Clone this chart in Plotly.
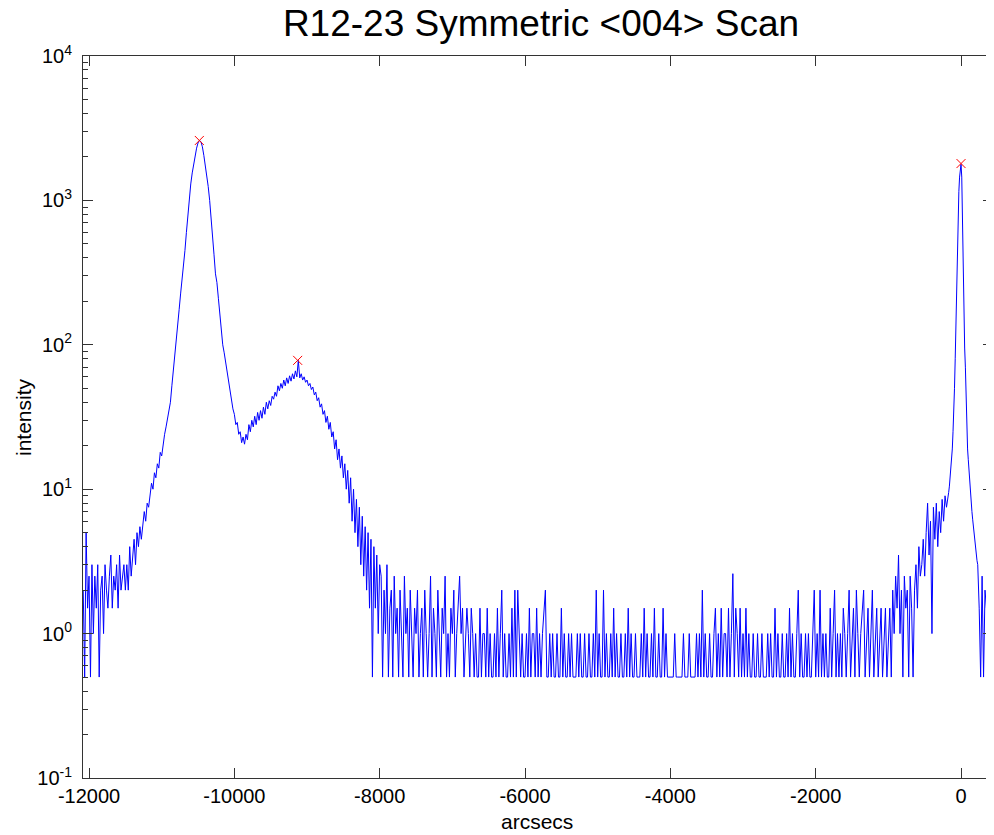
import plotly.graph_objects as go

# ---------------- data ----------------
# Each segment: start angle (arcsec), sampling step (arcsec), intensities
seg_a_start, seg_a_step = -12080, 20
seg_a = [2, 0.5, 5, 1.5, 2.5, 0.5, 3, 1, 2.5, 1.5,
         3, 0.5, 2, 2.5, 1, 3, 2, 1.5, 2.5, 3.5,
         1.5, 2.5, 2, 3, 1.5, 3.5, 2, 2.5, 3, 2]

seg_b_start, seg_b_step = -11480, 20
seg_b = [3, 2, 4, 2.5, 3.5, 4.5, 3, 5, 4, 5.5,
         4.5, 6, 7, 6, 8, 7.5, 9, 11, 10, 13,
         12, 15, 14, 18, 17, 21, 24, 27, 31, 35]

seg_c_start, seg_c_step = -10880, 20
seg_c = [40, 52, 68, 86, 105, 135, 175, 225, 280, 340,
         450, 600, 800, 1050, 1300, 1550, 1800, 2050, 2300, 2500,
         2600, 2550, 2350, 2050, 1750, 1450, 1250, 1000, 780, 600,
         420, 310, 270, 210, 165, 125, 100, 88, 75, 64,
         55, 48]

seg_d_start, seg_d_step = -10040, 20
seg_d = [42, 36, 33, 28, 29, 24, 25, 21, 23, 20.5,
         24, 22, 28, 25, 30, 27, 32, 28, 34, 30,
         35, 31, 37, 33, 40, 36, 41, 38, 44, 42,
         47, 44, 52, 48, 54, 50, 57, 52, 59, 54,
         61, 56, 63, 58, 66, 60, 78, 59, 63, 57,
         60, 55, 57, 52, 54, 49, 51, 45, 47, 41,
         43, 37, 39, 33, 35, 29, 32, 26, 29, 23,
         25, 19, 22, 16, 19, 14, 17, 12, 15, 10,
         13.5, 8, 12, 6, 10, 5, 8.5, 4, 7.5, 3,
         6.5, 2.5, 5.5, 2, 5, 1.5, 4.5, 0.5, 4, 1.5,
         3.5, 1, 3]

seg_e_start, seg_e_step = -7980, 20
seg_e = [2.5, 0.5, 2, 1, 3, 0.5, 1.5, 2, 0.5, 2.5, 1, 1.5, 0.5, 2, 1, 0.5, 2.5, 1, 1.5, 0.5,
         2, 1, 0.5, 1.5, 1, 2, 0.5, 1, 1.5, 0.5, 2, 1, 0.5, 1, 2.5, 0.5, 1.5, 1, 0.5, 2,
         1, 0.5, 1.5, 1, 2.5, 0.5, 1, 0.5, 1.5, 1, 2, 0.5, 1, 1.5, 2.5, 1, 1.5, 0.5, 1, 1.5,
         1, 0.5, 1.5, 1, 0.5, 1, 0.5, 0.5, 1.5, 0.5, 1, 1, 0.5, 1.5, 0.5, 1, 0.5, 0.5, 1, 0.5,
         1.5, 0.5, 1, 2, 0.5, 1, 0.5, 0.5, 1, 0.5, 1.5, 0.5, 2, 0.5, 2, 1, 0.5, 1, 0.5, 0.5,
         1, 0.5, 1.5, 0.5, 1, 1, 0.5, 1.5, 0.5, 1, 0.5, 1, 1.5, 2, 0.5, 0.5, 1, 0.5, 1, 0.5,
         0.5, 1, 0.5, 0.5, 1.5, 0.5, 1, 0.5, 0.5, 1, 0.5, 1, 0.5, 0.5, 0.5, 1, 0.5, 1, 0.5, 0.5,
         1, 0.5, 0.5, 1, 0.5, 0.5, 1, 0.5, 2, 0.5, 1, 0.5, 0.5, 2, 0.5, 1, 0.5, 0.5, 1, 0.5,
         1.5, 0.5, 1, 0.5, 0.5, 1, 0.5, 0.5, 1, 0.5, 1.5, 0.5, 1, 0.5, 0.5, 1, 0.5, 0.5, 0.5, 1,
         0.5, 1.5, 0.5, 1, 0.5, 0.5, 1, 0.5, 1.5, 0.5, 0.5, 1, 0.5, 0.5, 1.5, 0.5, 1, 0.5, 0.5, 0.5,
         0.5, 0.5, 1, 0.5, 0.5, 0.5, 0.5, 0.5, 1, 0.5, 0.5, 0.5, 1, 0.5, 0.5, 0.5, 0.5, 1, 0.5, 1,
         0.5, 2, 0.5, 1, 0.5, 0.5, 1, 0.5, 0.5, 1, 1.5, 0.5, 1, 0.5, 1.5, 0.5, 1, 1, 0.5, 1.5,
         0.5, 1, 2.6, 0.5, 1.5, 1, 0.5, 1.5, 0.5, 1, 0.5, 1.5, 0.5, 1, 0.5, 0.5, 1, 0.5, 0.5, 1,
         0.5, 0.5, 1, 0.5, 0.5, 0.5, 1, 0.5, 1, 0.5, 0.5, 1.5, 0.5, 1, 0.5, 0.5, 1, 0.5, 0.5, 1,
         0.5, 1.5, 0.5, 1, 0.5, 0.5, 1, 2, 0.5, 1, 0.5, 0.5, 1, 0.5, 1, 0.5, 0.5, 1, 2, 0.5,
         1, 0.5, 2, 0.5, 1, 0.5, 1, 0.5, 0.5, 1.5, 0.5, 1, 2, 0.5, 1, 0.5, 1, 0.5, 1.5, 1,
         0.5, 1, 2, 0.5, 1, 1.5, 0.5, 2, 1, 0.5, 1, 1.5, 2, 0.5, 1, 1.5, 0.5, 1, 2, 0.5,
         1, 1.5, 0.5, 1, 1.5, 0.5, 1, 1.5, 0.5, 1]

seg_f_start, seg_f_step = -980, 20
seg_f = [1.5, 0.5, 2, 1, 2.5, 1.5, 3.5, 1, 2, 0.5,
         2.5, 1.5, 2, 0.5, 2.5, 1.5, 0.5, 2, 3, 1.5,
         4, 2.5, 3, 4.5, 2.5, 5, 8, 3.5, 6, 1,
         7.5, 4.5, 8, 4, 7, 5, 8.5, 6, 9]

seg_r_start, seg_r_step = -200, 10
seg_r = [7.5, 8, 8.5, 9.5, 10.5, 12, 14, 16, 19, 25,
         33, 50, 80, 140, 260, 560, 850, 1150, 1450, 1700,
         1780, 1450, 600, 280, 160, 95, 70, 40, 26, 19,
         16, 13, 11, 9.5, 8, 7, 6.2, 5.5, 4.8, 4.2,
         3.8, 3.5, 3.2]

seg_g_start, seg_g_step = 230, 20
seg_g = [3, 1.5, 0.5, 2.5, 0.5, 2, 1.5, 3, 1, 2, 1.5]

peak_x = [-10482, -9129, 0]
peak_y = [2600, 78, 1800]

x_ticks = [-12000, -10000, -8000, -6000, -4000, -2000, 0]
x_tick_text = ["-12000", "-10000", "-8000", "-6000", "-4000", "-2000", "0"]
y_ticks = [0.1, 1, 10, 100, 1000, 10000]
y_tick_text = ["10<sup>-1</sup>", "10<sup>0</sup>", "10<sup>1</sup>",
               "10<sup>2</sup>", "10<sup>3</sup>", "10<sup>4</sup>"]
y_minor = [m * d for d in (0.1, 1, 10, 100, 1000) for m in range(2, 10)]

# ---------------- build series ----------------
segments = [
    (seg_a_start, seg_a_step, seg_a), (seg_b_start, seg_b_step, seg_b),
    (seg_c_start, seg_c_step, seg_c), (seg_d_start, seg_d_step, seg_d),
    (seg_e_start, seg_e_step, seg_e), (seg_f_start, seg_f_step, seg_f),
    (seg_r_start, seg_r_step, seg_r), (seg_g_start, seg_g_step, seg_g),
]
xs, ys = [], []
for start, step, vals in segments:
    xs.extend(start + i * step for i in range(len(vals)))
    ys.extend(vals)

fig = go.Figure()
fig.add_trace(go.Scatter(x=xs, y=ys, mode="lines",
                         line=dict(color="#0000FF", width=1), hoverinfo="x+y"))
fig.add_trace(go.Scatter(x=peak_x, y=peak_y, mode="markers",
                         marker=dict(symbol="x-thin", size=9, color="red",
                                     line=dict(color="red", width=1))))

# the page places the figure 8px in from the top-left corner
W, H = 986, 827
ML, MR, MT, MB = 75, 1, 48, 57
PW, PH = W - ML - MR, H - MT - MB

axis_col = "#333333"
fig.update_layout(
    width=W, height=H,
    margin=dict(l=ML, r=MR, t=MT, b=MB, autoexpand=False),
    paper_bgcolor="white", plot_bgcolor="white",
    showlegend=False,
    font=dict(family="Liberation Sans, Arial, sans-serif", color="black"),
    title=dict(text="R12-23 Symmetric &lt;004&gt; Scan", x=533 / W, xanchor="center",
               xref="container", y=1 - 2 / H, yanchor="top", pad=dict(t=0, b=0),
               font=dict(size=37, color="black")),
    annotations=[
        dict(text="arcsecs", xref="paper", yref="paper", x=(529 - ML) / PW,
             y=-(813 - (MT + PH)) / PH, xanchor="center", yanchor="middle",
             showarrow=False, font=dict(size=21, color="black")),
        dict(text="intensity", xref="paper", yref="paper", x=(15 - ML) / PW,
             y=0.5, xanchor="center", yanchor="middle", textangle=-90,
             showarrow=False, font=dict(size=21, color="black")),
    ],
)
fig.update_xaxes(
    range=[-12083, 440], tickmode="array", tickvals=x_ticks, ticktext=x_tick_text,
    ticks="inside", ticklen=10, tickcolor=axis_col, showline=True, linecolor=axis_col,
    linewidth=1, mirror="allticks", showgrid=False, zeroline=False, automargin=False,
    tickfont=dict(size=20, color="black"),
)
fig.update_yaxes(
    type="log", range=[-1, 4], tickmode="array", tickvals=y_ticks, ticktext=y_tick_text,
    ticks="inside", ticklen=10, tickcolor=axis_col, showline=True, linecolor=axis_col,
    linewidth=1, mirror="allticks", showgrid=False, zeroline=False, automargin=False,
    tickfont=dict(size=20, color="black"), ticklabelstandoff=6,
    minor=dict(tickmode="array", tickvals=y_minor, ticks="inside", ticklen=5,
               tickcolor=axis_col, showgrid=False),
)

fig.write_html("out.html")
